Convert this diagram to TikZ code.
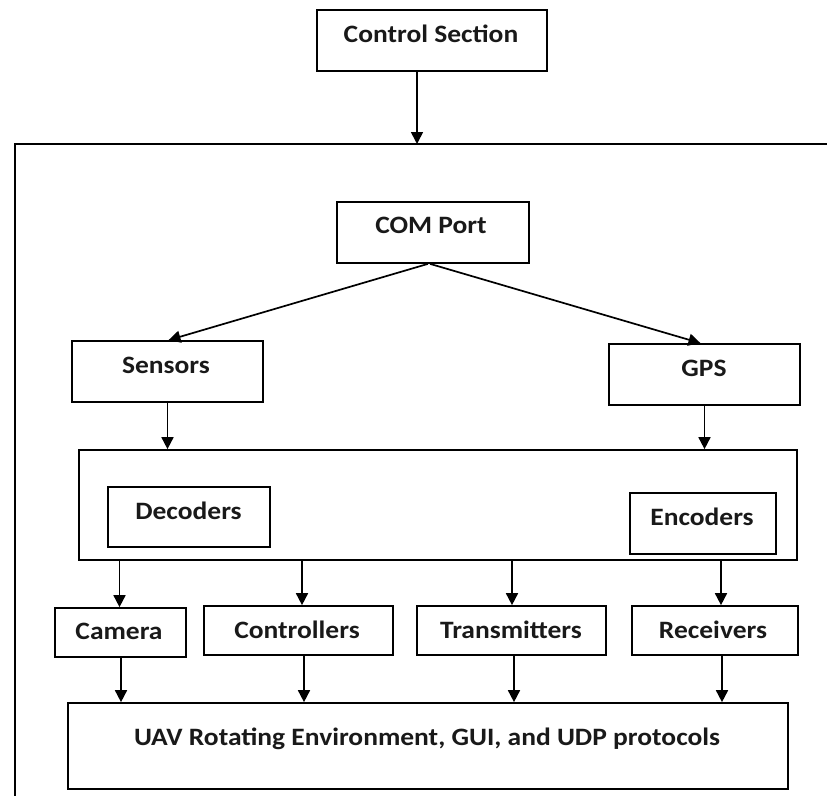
\documentclass[tikz,border=0pt]{standalone}
\usepackage{fontspec}
\usepackage{graphicx}
\setmainfont{Carlito}
\usetikzlibrary{arrows.meta}
\newcommand{\wide}[1]{\scalebox{1.1}[1]{#1}}
\tikzset{
  blk/.style={draw=black, line width=1.7pt, rectangle, inner sep=0pt},
  lbl/.style={anchor=base, inner sep=0pt, font=\fontsize{25}{30}\selectfont\bfseries, text=black!90},
  arr/.style={line width=1.7pt, -{Triangle[width=12pt,length=12pt]}},
  frame/.style={line width=1.7pt}
}
\begin{document}
\begin{tikzpicture}[x=1pt,y=-1pt]
  \useasboundingbox (0,0) rectangle (827,796);

  % enclosing frame (runs off to the right and bottom)
  \coordinate (fr-tl) at (15,144);
  \coordinate (fr-tr) at (827,144);
  \coordinate (fr-bl) at (15,796);
  \draw[frame] (fr-tr) -- (fr-tl) -- (fr-bl);

  % boxes
  \node[blk, minimum width=230, minimum height=61] (cs)   at (432,40.5)  {};
  \node[blk, minimum width=192, minimum height=61] (com)  at (433,232.5) {};
  \node[blk, minimum width=191, minimum height=61] (sens) at (167.5,371.5) {};
  \node[blk, minimum width=191, minimum height=61] (gps)  at (704.5,374.5) {};
  \node[blk, minimum width=718, minimum height=110] (mid) at (438,505) {};
  \node[blk, minimum width=162, minimum height=60] (dec)  at (189,517) {};
  \node[blk, minimum width=146, minimum height=61] (enc)  at (703,523.5) {};
  \node[blk, minimum width=131, minimum height=49] (cam)  at (120.5,632.5) {};
  \node[blk, minimum width=189, minimum height=49] (ctl)  at (298.5,630.5) {};
  \node[blk, minimum width=189, minimum height=49] (tx)   at (511.5,630.5) {};
  \node[blk, minimum width=166, minimum height=49] (rx)   at (715,630.5) {};
  \node[blk, minimum width=720, minimum height=86] (uav)  at (428,746) {};

  % labels
  \node[lbl] (cs-t)   at (431,42)  {\wide{Control Section}};
  \node[lbl] (com-t)  at (431,233) {\wide{COM Port}};
  \node[lbl] (sens-t) at (166,373) {\wide{Sensors}};
  \node[lbl] (gps-t)  at (704,376) {\wide{GPS}};
  \node[lbl] (dec-t)  at (188.5,519) {\wide{Decoders}};
  \node[lbl] (enc-t)  at (702,525) {\wide{Encoders}};
  \node[lbl] (cam-t)  at (119,639) {\wide{Camera}};
  \node[lbl] (ctl-t)  at (297,638) {\wide{Controllers}};
  \node[lbl] (tx-t)   at (511,638) {\wide{Transmitters}};
  \node[lbl] (rx-t)   at (713,638) {\wide{Receivers}};
  \node[lbl] (uav-t)  at (427,745) {\wide{UAV Rotating Environment, GUI, and UDP protocols}};

  % connectors
  \draw[arr] ([xshift=-15]cs.south) -- ([xshift=-15]cs.south |- fr-tl);
  \draw[arr] ([xshift=-5]com.south) -- ([xshift=1]sens.north);
  \draw[arr] ([xshift=-3]com.south) -- ([xshift=-4]gps.north);
  \draw[arr] ([yshift=2]sens.south) -- (sens.south |- mid.north);
  \draw[arr] (gps.south) -- (gps.south |- mid.north);

  \draw[arr] ([xshift=-1]cam.north |- mid.south) -- ([xshift=-1]cam.north);
  \draw[arr] ([xshift=3.5]ctl.north |- mid.south) -- ([xshift=3.5]ctl.north);
  \draw[arr] ([xshift=0.5]tx.north |- mid.south) -- ([xshift=0.5]tx.north);
  \draw[arr] ([xshift=6]rx.north |- mid.south) -- ([xshift=6]rx.north);

  \draw[arr] ([xshift=0.5]cam.south) -- ([xshift=0.5]cam.south |- uav.north);
  \draw[arr] ([xshift=5.5]ctl.south) -- ([xshift=5.5]ctl.south |- uav.north);
  \draw[arr] ([xshift=2.5]tx.south) -- ([xshift=2.5]tx.south |- uav.north);
  \draw[arr] ([xshift=7]rx.south) -- ([xshift=7]rx.south |- uav.north);
\end{tikzpicture}
\end{document}
